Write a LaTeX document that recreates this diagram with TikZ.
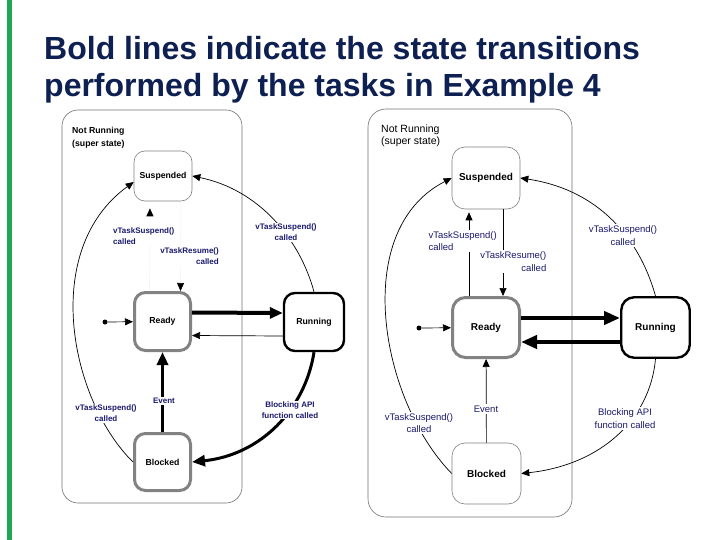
\documentclass[tikz,border=0pt]{standalone}
\usepackage{fontspec}
\setmainfont{Liberation Sans}
\usetikzlibrary{arrows.meta,calc}
\definecolor{titleblue}{RGB}{14,32,82}
\definecolor{labelblue}{RGB}{26,26,110}
\definecolor{barGreen}{RGB}{28,168,84}
\definecolor{stateGray}{RGB}{130,130,130}
\begin{document}
\begin{tikzpicture}[x=1pt,y=-1pt,
  superbox/.style={draw=black!55, line width=0.6pt, rounded corners=16pt, inner sep=0pt},
  stL/.style={rounded corners=11pt, inner sep=0pt, font=\bfseries\fontsize{8.7}{10}\selectfont},
  stR/.style={rounded corners=13pt, inner sep=0pt, font=\bfseries\fontsize{10}{12}\selectfont},
  thinst/.style={draw=stateGray, line width=0.6pt},
  grayst/.style={draw=stateGray, line width=3pt},
  blackst/.style={draw=black, line width=2.4pt},
  lblL/.style={font=\bfseries\fontsize{8}{11}\selectfont, text=labelblue, fill=white, inner sep=1pt, align=center},
  lblR/.style={font=\fontsize{9.5}{12.5}\selectfont, text=labelblue, fill=white, inner sep=1.5pt, align=center},
  thinarr/.style={draw=black, line width=0.7pt, -{Triangle[length=8pt,width=7pt]}},
  faintarr/.style={draw=black!4, line width=0.7pt, -{Triangle[length=8pt,width=7pt,color=black]}},
  thickarrL/.style={draw=black, line width=#1, -{Triangle[length=13pt,width=11pt]}},
  thickarrR/.style={draw=black, line width=4.7pt, -{Triangle[length=16pt,width=13pt]}},
  dotnode/.style={circle, fill=black, inner sep=0pt, minimum size=5pt}
]
\useasboundingbox (0,0) rectangle (720,540);
\fill[white] (0,0) rectangle (720,540);
\fill[barGreen] (7,0) rectangle (12,540);

% Title
\node[anchor=base west, inner sep=0pt, text=titleblue, font=\bfseries\fontsize{32}{37}\selectfont] (title1) at (44,60) {Bold lines indicate the state transitions};
\node[anchor=base west, inner sep=0pt, text=titleblue, font=\bfseries\fontsize{32}{37}\selectfont] (title2) at (44,97) {performed by the tasks in Example 4};

% ===== Left diagram =====
\node[superbox, minimum width=180pt, minimum height=393pt] (superL) at (152,306.5) {};
\node[anchor=west, align=left, inner sep=0pt, font=\bfseries\fontsize{8.7}{13}\selectfont] (nrL) at (72,137.5) {Not Running\\(super state)};

\node[stL, thinst, minimum width=58pt, minimum height=50pt] (susL) at (163,176) {Suspended};
\node[stL, grayst, minimum width=56pt, minimum height=58pt] (readyL) at (162.5,321.5) {Ready};
\node[stL, blackst, minimum width=60pt, minimum height=58pt] (runL) at (314,322) {Running};
\node[stL, grayst, minimum width=56pt, minimum height=57pt] (blkL) at (162.5,462) {Blocked};
\node[dotnode] (initL) at (105,322) {};

\draw[thinarr] (initL) -- (readyL);
\draw[faintarr, shorten >=7pt] ([xshift=-13pt]readyL.north) -- ([xshift=-13pt]susL.south);
\draw[faintarr] ([xshift=18pt]susL.south) -- ([xshift=18pt]readyL.north);
\draw[thickarrL=4pt] ([yshift=9pt]readyL.east) -- ([yshift=9pt]runL.west);
\draw[thinarr] ([yshift=-14pt]runL.west) -- ([yshift=-14pt]readyL.east);
\draw[thickarrL=3.5pt] (blkL) -- (readyL);
\draw[thickarrL=3pt] (runL.south) .. controls (305,410) and (260,455) .. (blkL.east);
\draw[thinarr] (blkL.west) .. controls (70,400) and (40,250) .. ([yshift=-6pt]susL.west);
\draw[thinarr] (runL.north) .. controls (300,240) and (260,190) .. (susL.east);

\node[lblL, anchor=west, align=left] (lSusL) at (112,236.5) {vTaskSuspend()\\called};
\node[lblL, anchor=east, align=right] (lResL) at (220,256.5) {vTaskResume()\\called};
\node[lblL] (lSus2L) at (286,232.5) {vTaskSuspend()\\called};
\node[lblL] (lEvL) at (164,401) {Event};
\node[lblL] (lBlkL) at (290,410) {Blocking API\\function called};
\node[lblL] (lSus3L) at (106,413.5) {vTaskSuspend()\\called};

% ===== Right diagram =====
\node[superbox, rounded corners=18pt, minimum width=204pt, minimum height=408pt] (superR) at (470,313) {};
\node[anchor=west, align=left, inner sep=0pt, font=\fontsize{10.5}{12}\selectfont] (nrR) at (381,135.5) {Not Running\\(super state)};

\node[stR, thinst, minimum width=68pt, minimum height=62pt] (susR) at (486,178) {Suspended};
\node[stR, grayst, minimum width=67pt, minimum height=60pt] (readyR) at (486,327.5) {Ready};
\node[stR, blackst, minimum width=68.5pt, minimum height=60.5pt] (runR) at (655.5,327.5) {Running};
\node[stR, thinst, minimum width=69pt, minimum height=61pt] (blkR) at (486.5,473.5) {Blocked};
\node[dotnode] (initR) at (419,328) {};

\draw[thinarr] (initR) -- (readyR);
\draw[thinarr, shorten >=3pt] ([xshift=-17pt]readyR.north) -- ([xshift=-17pt]susR.south);
\draw[thinarr] ([xshift=17pt]susR.south) -- ([xshift=17pt]readyR.north);
\draw[thickarrR] ([yshift=9.5pt]readyR.east) -- ([yshift=9.5pt]runR.west);
\draw[thickarrR] ([yshift=-14.5pt]runR.west) -- ([yshift=-14.5pt]readyR.east);
\draw[thinarr] (blkR) -- (readyR);
\draw[thinarr] (runR.south) .. controls (650,420) and (600,465) .. (blkR.east);
\draw[thinarr] (blkR.west) .. controls (380,400) and (350,230) .. (susR.west);
\draw[thinarr] (runR.north) .. controls (640,240) and (600,190) .. (susR.east);

\node[lblR, anchor=west, align=left] (lSusR) at (427,241) {vTaskSuspend()\\called};
\node[lblR, anchor=east, align=right] (lResR) at (548,261.5) {vTaskResume()\\called};
\node[lblR] (lSus2R) at (623,235.5) {vTaskSuspend()\\called};
\node[lblR] (lEvR) at (486,409) {Event};
\node[lblR] (lBlkR) at (625,418.5) {Blocking API\\function called};
\node[lblR] (lSus3R) at (419,423) {vTaskSuspend()\\called};
\end{tikzpicture}
\end{document}
